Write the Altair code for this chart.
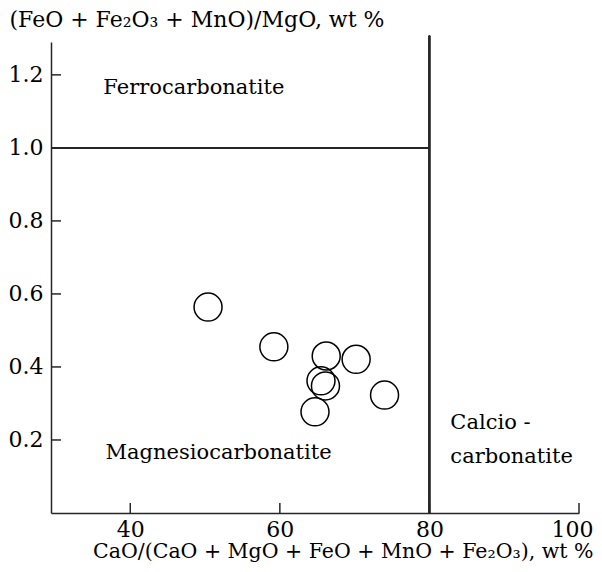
import altair as alt
import pandas as pd

# sample points: CaO/(CaO+MgO+FeO+MnO+Fe2O3) vs (FeO+Fe2O3+MnO)/MgO
x_vals = [50.4, 59.2, 66.2, 70.2, 65.5, 66.1, 64.7, 74.0]
y_vals = [0.564, 0.455, 0.430, 0.421, 0.362, 0.348, 0.277, 0.323]

x_ticks = [40, 60, 80, 100]
y_ticks = [0.2, 0.4, 0.6, 0.8, 1.0, 1.2]

region_names = ["Ferrocarbonatite", "Magnesiocarbonatite", "Calcio -", "carbonatite"]
region_x = [36.4, 36.7, 82.8, 82.8]
region_y = [1.148, 0.148, 0.231, 0.136]

ferro_limit = 1.0
calcio_limit = 80

x_min, x_max = 29.4, 100
y_min, y_max = 0, 1.29
line_top = 1.307

FONT = "DejaVu Serif"
FS = 22
INK = "#262626"
W, H = 528, 471

xs = alt.Scale(domain=[x_min, x_max], nice=False, zero=False)
ys = alt.Scale(domain=[y_min, y_max], nice=False, zero=False)

xa = alt.Axis(
    values=x_ticks, ticks=False, grid=False, domain=True,
    domainColor=INK, domainWidth=1.5, labelFont=FONT, labelFontSize=FS,
    labelColor="black", labelPadding=6, labelFlush=1, labelFlushOffset=14,
    title="CaO/(CaO + MgO + FeO + MnO + Fe₂O₃), wt %",
    titleFont=FONT, titleFontSize=20.5, titleFontWeight="normal",
    titleColor="black", titleX=542, titleY=44, titleAlign="right",
    titleBaseline="alphabetic")
ya = alt.Axis(
    values=y_ticks, format=".1f", ticks=False, grid=False, domain=True,
    domainColor=INK, domainWidth=1.5, labelFont=FONT, labelFontSize=FS,
    labelColor="black", labelPadding=8, labelFlush=False,
    title="(FeO + Fe₂O₃ + MnO)/MgO, wt %",
    titleFont=FONT, titleFontSize=FS, titleFontWeight="normal",
    titleColor="black", titleAngle=0, titleX=-42, titleY=-16,
    titleAlign="left", titleBaseline="alphabetic")

pts = pd.DataFrame({"x": x_vals, "y": y_vals})
xt = pd.DataFrame({"x": x_ticks})
yt = pd.DataFrame({"y": y_ticks})
labels = pd.DataFrame({"x": region_x, "y": region_y, "t": region_names})

points = alt.Chart(pts).mark_point(
    shape="circle", size=784, filled=False, color="black", strokeWidth=1.5, opacity=1
).encode(
    x=alt.X("x:Q", scale=xs, axis=xa),
    y=alt.Y("y:Q", scale=ys, axis=ya),
)

ytick_marks = alt.Chart(yt).mark_rule(color=INK, strokeWidth=1.5).encode(
    y=alt.Y("y:Q", scale=ys, axis=ya), x=alt.value(0), x2=alt.value(10)
)
xtick_marks = alt.Chart(xt).mark_rule(color=INK, strokeWidth=1.5).encode(
    x=alt.X("x:Q", scale=xs, axis=xa), y=alt.value(H), y2=alt.value(H - 10)
)

hline = alt.Chart(pts).mark_rule(color=INK, strokeWidth=1.5).encode(
    x=alt.X(datum=x_min, scale=xs, axis=xa),
    x2=alt.X2(datum=calcio_limit),
    y=alt.Y(datum=ferro_limit, scale=ys, axis=ya),
)
vline = alt.Chart(pts).mark_rule(color=INK, strokeWidth=1.5, clip=False).encode(
    x=alt.X(datum=calcio_limit, scale=xs, axis=xa),
    y=alt.Y(datum=y_min, scale=ys, axis=ya),
    y2=alt.Y2(datum=line_top),
)

text = alt.Chart(labels).mark_text(
    align="left", baseline="alphabetic", font=FONT, fontSize=21, color="black"
).encode(
    x=alt.X("x:Q", scale=xs, axis=xa),
    y=alt.Y("y:Q", scale=ys, axis=ya),
    text="t:N",
)

chart = alt.layer(points, ytick_marks, xtick_marks, hline, vline, text).properties(
    width=W, height=H,
    autosize=alt.AutoSizeParams(type="none"),
    padding={"left": 43, "top": 34, "right": 15, "bottom": 51},
    background="white",
).configure_view(stroke=None)

chart.save("out.html", embed_options={"renderer": "svg", "actions": False})
